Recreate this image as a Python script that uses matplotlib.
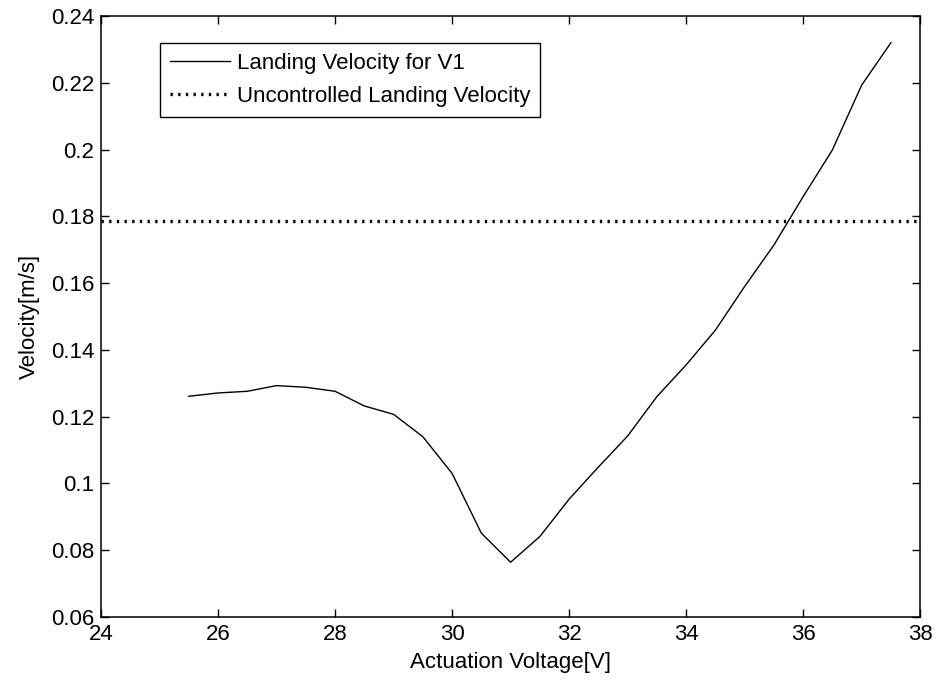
import numpy as np
import matplotlib.pyplot as plt

# ---------------------------------------------
# Landing velocity vs. actuation voltage
# ---------------------------------------------

voltage = [25.5, 26.0, 26.5, 27.0, 27.5, 28.0, 28.5, 29.0, 29.5, 30.0,
           30.5, 31.0, 31.5, 32.0, 32.5, 33.0, 33.5, 34.0, 34.5, 35.0,
           35.5, 36.0, 36.5, 37.0, 37.5]
landing_v1 = [0.1261, 0.1271, 0.1276, 0.1293, 0.1288, 0.1276, 0.1232, 0.1207, 0.1140, 0.1030,
              0.0851, 0.0764, 0.0841, 0.0953, 0.1049, 0.1142, 0.1260, 0.1355, 0.1459, 0.1590,
              0.1714, 0.1859, 0.1999, 0.2193, 0.2320]
uncontrolled_v = 0.1787

x_ticks = [24, 26, 28, 30, 32, 34, 36, 38]
y_ticks = [0.06, 0.08, 0.1, 0.12, 0.14, 0.16, 0.18, 0.2, 0.22, 0.24]
y_labels = ["0.06", "0.08", "0.1", "0.12", "0.14", "0.16", "0.18", "0.2", "0.22", "0.24"]

plt.rcParams['font.family'] = ['Liberation Sans', 'DejaVu Sans']
plt.rcParams['font.size'] = 16

fig = plt.figure(figsize=(9.38, 6.81), dpi=100)
ax = fig.add_axes([0.1077, 0.094, 0.8733, 0.8825])

ax.plot(voltage, landing_v1, color='black', linewidth=1.0, label='Landing Velocity for V1')
ax.axhline(uncontrolled_v, color='black', linewidth=2.4, linestyle=(0, (0.7, 1.6)),
           label='Uncontrolled Landing Velocity')

ax.set_xlim(24, 38)
ax.set_ylim(0.06, 0.24)
ax.set_xticks(x_ticks)
ax.set_yticks(y_ticks)
ax.set_yticklabels(y_labels)
ax.tick_params(direction='in', top=True, right=True, length=6, width=1, pad=5)
for s in ax.spines.values():
    s.set_linewidth(1.1)

ax.set_xlabel('Actuation Voltage[V]', labelpad=5)
ax.set_ylabel('Velocity[m/s]', labelpad=8)

leg = ax.legend(loc='upper left', bbox_to_anchor=(0.072, 0.9556), borderaxespad=0,
                fancybox=False, framealpha=1, edgecolor='black', handlelength=2.7,
                handletextpad=0.3, borderpad=0.45, labelspacing=0.55)
leg.get_frame().set_linewidth(1.0)

fig.savefig('out.png', dpi=100)
